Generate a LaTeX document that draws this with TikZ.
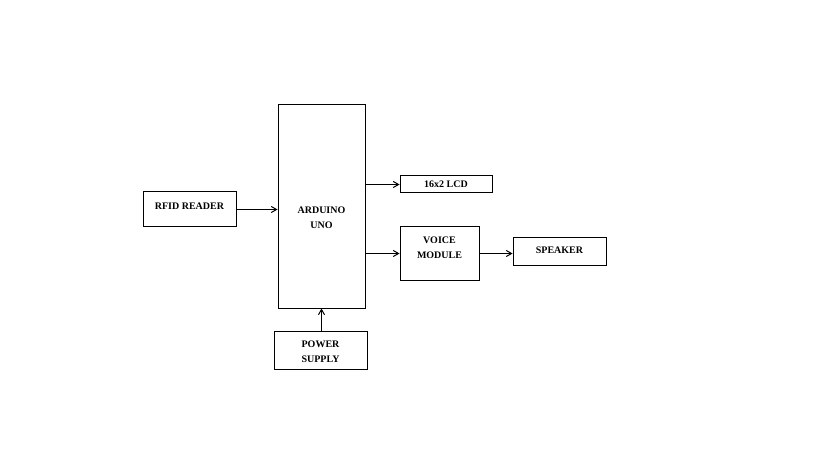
\documentclass[tikz,border=0pt]{standalone}
\usepackage{fontspec}
\setmainfont{Liberation Serif}
\usepackage{tikz}
\usetikzlibrary{positioning,arrows}

\begin{document}
\begin{tikzpicture}[
  x=0.75pt,y=-0.75pt,
  block/.style={rectangle,draw,line width=0.75pt,align=center,inner sep=1pt,font=\fontsize{7.5}{11.25}\selectfont\bfseries},
  link/.style={->,>=angle 60,line width=0.75pt},
]
\useasboundingbox (0,0) rectangle (819,460);

% === Controller ===
\node[block,minimum width=65.25pt,minimum height=152.25pt] (arduino) at (321.5,206.5) {\\[11pt]ARDUINO\\UNO};

% === Input side ===
\node[block,minimum width=69.75pt,minimum height=26.25pt] (rfid) at (189.5,209.5) {RFID READER\\[-7pt]};
\node[block,minimum width=69.75pt,minimum height=28.5pt] (power) at (320.5,350) {\\[-3pt]POWER\\SUPPLY};

% === Output side ===
\node[block,minimum width=69pt,minimum height=12.75pt] (lcd) at (446,184.5) {16x2 LCD};
\node[block,minimum width=59.25pt,minimum height=39.75pt] (voice) at (439.5,253.5) {VOICE\\MODULE\\[-2pt]};
\node[block,minimum width=69.75pt,minimum height=21pt] (speaker) at (559.5,252) {SPEAKER\\[-9pt]};

% === Connections ===
\draw[link] (rfid.east) -- (rfid.east -| arduino.west);
\draw[link] (arduino.east |- lcd) -- (lcd.west);
\draw[link] (arduino.east |- voice) -- (voice.west);
\draw[link] (voice.east) -- (voice.east -| speaker.west);
\draw[link] (power.north -| arduino.south) -- (arduino.south);

\end{tikzpicture}
\end{document}
